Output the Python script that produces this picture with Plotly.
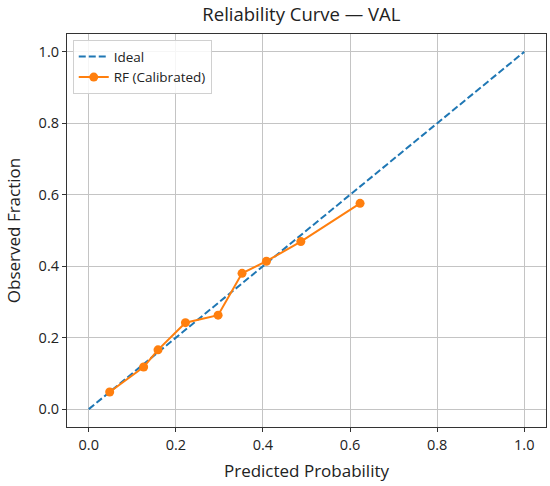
import plotly.graph_objects as go

# reliability curve values
ideal_x = [0.0, 1.0]
ideal_y = [0.0, 1.0]
pred_prob = [0.048, 0.126, 0.159, 0.222, 0.297, 0.352, 0.408, 0.487, 0.623]
obs_frac = [0.048, 0.118, 0.166, 0.242, 0.263, 0.380, 0.414, 0.469, 0.576]
tick_vals = [0.0, 0.2, 0.4, 0.6, 0.8, 1.0]
tick_text = ['0.0', '0.2', '0.4', '0.6', '0.8', '1.0']

FONT = 'Open Sans'

fig = go.Figure()
fig.add_trace(go.Scatter(x=ideal_x, y=ideal_y, mode='lines', name='Ideal',
                         line=dict(color='#1f77b4', width=2, dash='7px,3px')))
fig.add_trace(go.Scatter(x=pred_prob, y=obs_frac, mode='lines+markers', name='RF (Calibrated)',
                         line=dict(color='#ff7f0e', width=2),
                         marker=dict(color='#ff7f0e', size=9)))

axis_style = dict(range=[-0.05, 1.05], tickvals=tick_vals, ticktext=tick_text,
                  showgrid=True, gridcolor='#c4c4c4', gridwidth=1.2, zeroline=False,
                  showline=True, linecolor='#333333', linewidth=1.2, mirror=True,
                  ticks='outside', ticklen=4, tickcolor='#333333', automargin=False,
                  tickfont=dict(family=FONT, size=14.5, color='#222222'))

fig.update_xaxes(**axis_style, title=dict(text='Predicted Probability', standoff=12,
                                          font=dict(family=FONT, size=17, color='#222222')))
fig.update_yaxes(**axis_style, title=dict(text='Observed Fraction', standoff=13,
                                          font=dict(family=FONT, size=17, color='#222222')))

fig.update_layout(
    width=550, height=486,
    margin=dict(l=67, r=4, t=34, b=59),
    paper_bgcolor='white', plot_bgcolor='white',
    title=dict(text='Reliability Curve — VAL', x=0.548, xanchor='center', y=0.97, yanchor='middle',
               font=dict(family=FONT, size=18.5, color='#222222')),
    legend=dict(x=0.012, y=0.984, xanchor='left', yanchor='top',
                bgcolor='rgba(255,255,255,0.85)', bordercolor='#d0d0d0', borderwidth=1,
                font=dict(family=FONT, size=13.5, color='#222222'),
                itemwidth=30, tracegroupgap=4),
    showlegend=True,
)

# drop the browser's default 8px body margin so the figure fills the window
fig.write_html("out.html", config={'displayModeBar': False},
               post_script="document.body.style.margin='0';")
